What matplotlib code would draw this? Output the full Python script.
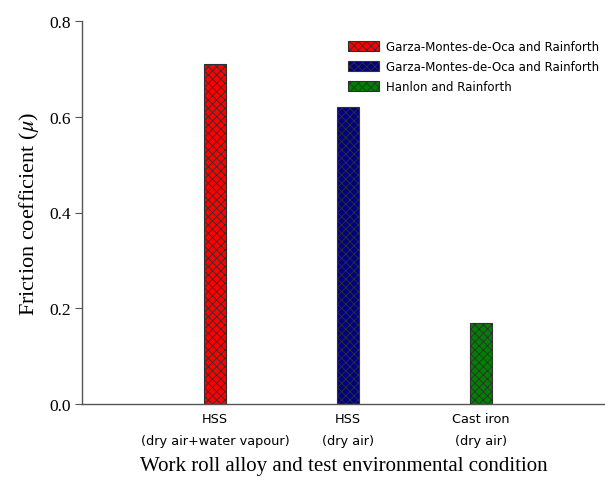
import matplotlib
matplotlib.use("Agg")
import matplotlib.pyplot as plt

categories = ["HSS\n(dry air+water vapour)", "HSS\n(dry air)", "Cast iron\n(dry air)"]
friction = [0.71, 0.62, 0.17]
series_labels = ["Garza-Montes-de-Oca and Rainforth",
                 "Garza-Montes-de-Oca and Rainforth",
                 "Hanlon and Rainforth"]
colors = ["#ff0000", "#000080", "#008000"]
y_ticks = [0.0, 0.2, 0.4, 0.6, 0.8]

plt.rcParams["mathtext.fontset"] = "stix"
plt.rcParams["hatch.linewidth"] = 0.6

fig = plt.figure(figsize=(6.05, 4.85), dpi=100)
ax = fig.add_axes([82 / 605, 1 - 405 / 485, 1 - 82 / 605, 383 / 485])

positions = [1, 2, 3]
for pos, val, col, lab in zip(positions, friction, colors, series_labels):
    ax.bar(pos, val, width=0.165, color=col, edgecolor="#303030",
           hatch="xxxx", linewidth=0.8, label=lab)

ax.set_xlim(0, 523 / 133)
ax.set_ylim(0, 0.8)
ax.set_yticks(y_ticks)
ax.set_yticklabels([f"{t:.1f}" for t in y_ticks], family="Liberation Serif", fontsize=12.5)
ax.set_xticks(positions)
ax.set_xticklabels(categories, family="DejaVu Sans", fontsize=9.3, linespacing=1.9)
ax.tick_params(axis="x", length=0, pad=6)
ax.tick_params(axis="y", length=5, width=0.8, color="#555555", direction="out", pad=3)

for side in ("top", "right"):
    ax.spines[side].set_visible(False)
for side in ("left", "bottom"):
    ax.spines[side].set_color("#555555")
    ax.spines[side].set_linewidth(1.0)

ax.set_ylabel(r"Friction coefficient ($\mu$)", family="Liberation Serif", fontsize=16, labelpad=6)
ax.set_xlabel("Work roll alloy and test environmental condition", family="Liberation Serif",
              fontsize=15, labelpad=6)

leg = ax.legend(loc="upper right", bbox_to_anchor=(599 / 605, 1 - 41 / 485), bbox_transform=fig.transFigure,
                frameon=False, prop={"family": "DejaVu Sans", "size": 8.5},
                handlelength=2.6, handleheight=0.92, handletextpad=0.6, labelspacing=0.6,
                borderaxespad=0, borderpad=0)

fig.savefig("out.png", dpi=100)
